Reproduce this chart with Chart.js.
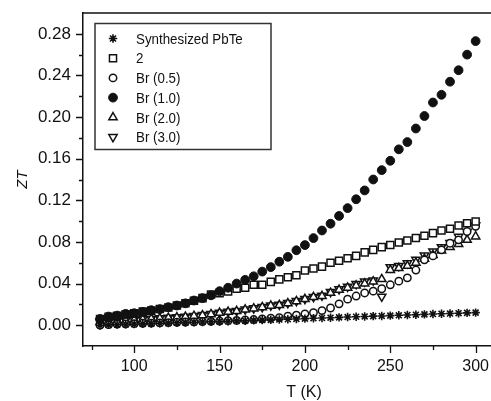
<!DOCTYPE html>
<html>
<head>
<meta charset="utf-8">
<script src="https://cdn.jsdelivr.net/npm/chart.js@4/dist/chart.umd.min.js"></script>
<style>
  html, body { margin: 0; padding: 0; background: #fff; }
  #wrap { width: 491px; height: 401px; }
</style>
</head>
<body>
<div id="wrap"><canvas id="zt-chart"></canvas></div>
<script>
// temperatures (K)
const temps = [80, 85, 90, 95, 100, 105, 110, 115, 120, 125,
               130, 135, 140, 145, 150, 155, 160, 165, 170, 175,
               180, 185, 190, 195, 200, 205, 210, 215, 220, 225,
               230, 235, 240, 245, 250, 255, 260, 265, 270, 275,
               280, 285, 290, 295, 300];

const ztPbTe = [0.0000, 0.0003, 0.0005, 0.0008, 0.0010, 0.0013, 0.0015, 0.0018, 0.0020, 0.0023,
                0.0025, 0.0028, 0.0030, 0.0033, 0.0036, 0.0038, 0.0041, 0.0043, 0.0046, 0.0049,
                0.0051, 0.0054, 0.0057, 0.0060, 0.0063, 0.0066, 0.0069, 0.0072, 0.0075, 0.0078,
                0.0081, 0.0084, 0.0087, 0.0089, 0.0092, 0.0095, 0.0098, 0.0101, 0.0104, 0.0107,
                0.0110, 0.0112, 0.0115, 0.0118, 0.0121];

const zt2 = [0.0060, 0.0080, 0.0090, 0.0105, 0.0115, 0.0130, 0.0140, 0.0155, 0.0170, 0.0190,
             0.0210, 0.0235, 0.0260, 0.0295, 0.0308, 0.0323, 0.0350, 0.0360, 0.0388, 0.0388,
             0.0416, 0.0440, 0.0460, 0.0480, 0.0525, 0.0544, 0.0563, 0.0600, 0.0620, 0.0644,
             0.0666, 0.0700, 0.0724, 0.0750, 0.0770, 0.0794, 0.0813, 0.0837, 0.0860, 0.0885,
             0.0910, 0.0926, 0.0958, 0.0980, 0.0996];

const ztBr05 = [0.0000, 0.0005, 0.0010, 0.0012, 0.0015, 0.0018, 0.0020, 0.0022, 0.0025, 0.0028,
                0.0030, 0.0032, 0.0035, 0.0037, 0.0040, 0.0043, 0.0046, 0.0050, 0.0054, 0.0060,
                0.0067, 0.0073, 0.0087, 0.0096, 0.0109, 0.0121, 0.0140, 0.0165, 0.0205, 0.0250,
                0.0280, 0.0310, 0.0327, 0.0350, 0.0388, 0.0423, 0.0455, 0.0530, 0.0628, 0.0666,
                0.0724, 0.0788, 0.0820, 0.0900, 0.0950];

const ztBr10 = [0.0060, 0.0083, 0.0092, 0.0109, 0.0115, 0.0128, 0.0144, 0.0154, 0.0173, 0.0189,
                0.0210, 0.0237, 0.0260, 0.0287, 0.0327, 0.0360, 0.0400, 0.0436, 0.0470, 0.0515,
                0.0558, 0.0610, 0.0657, 0.0720, 0.0770, 0.0837, 0.0910, 0.0975, 0.1050, 0.1125,
                0.1210, 0.1295, 0.1400, 0.1490, 0.1580, 0.1690, 0.1760, 0.1890, 0.2010, 0.2140,
                0.2214, 0.2340, 0.2450, 0.2600, 0.2730];

const ztBr20 = [0.0030, 0.0035, 0.0040, 0.0045, 0.0050, 0.0055, 0.0060, 0.0065, 0.0070, 0.0075,
                0.0080, 0.0088, 0.0095, 0.0105, 0.0118, 0.0128, 0.0135, 0.0150, 0.0160, 0.0172,
                0.0187, 0.0193, 0.0210, 0.0230, 0.0250, 0.0270, 0.0280, 0.0310, 0.0340, 0.0360,
                0.0380, 0.0400, 0.0420, 0.0442, 0.0530, 0.0548, 0.0570, 0.0600, 0.0637, 0.0673,
                0.0717, 0.0750, 0.0780, 0.0820, 0.0852];

const ztBr30 = [0.0032, 0.0037, 0.0042, 0.0047, 0.0052, 0.0057, 0.0062, 0.0067, 0.0072, 0.0078,
                0.0083, 0.0090, 0.0098, 0.0108, 0.0120, 0.0130, 0.0138, 0.0152, 0.0163, 0.0175,
                0.0190, 0.0197, 0.0213, 0.0233, 0.0253, 0.0272, 0.0285, 0.0320, 0.0346, 0.0370,
                0.0397, 0.0420, 0.0430, 0.0275, 0.0558, 0.0570, 0.0596, 0.0630, 0.0670, 0.0710,
                0.0750, 0.0790, 0.0850, 0.0900, 0.0960];

const seriesLabels = ['Synthesized PbTe', '2', 'Br (0.5)', 'Br (1.0)', 'Br (2.0)', 'Br (3.0)'];

// axis ticks (majors get labels)
const xTicks = [75, 100, 125, 150, 175, 200, 225, 250, 275, 300];
const xMajor = [100, 150, 200, 250, 300];
const yTicks = [0.00, 0.02, 0.04, 0.06, 0.08, 0.10, 0.12, 0.14, 0.16, 0.18, 0.20, 0.22, 0.24, 0.26, 0.28];

const FONT = '"Liberation Sans", Arial, sans-serif';
const INK = '#111';

const toPoints = vals => temps.map((t, i) => ({ x: t, y: vals[i] }));

const markerStyles = [
    { pointStyle: 'star', radius: 4.2, fill: INK, rotation: 0, width: 1.6 },
    { pointStyle: 'rect', radius: 5, fill: '#fff', rotation: 0, width: 1.5 },
    { pointStyle: 'circle', radius: 3.7, fill: '#fff', rotation: 0, width: 1.5 },
    { pointStyle: 'circle', radius: 4.4, fill: INK, rotation: 0, width: 1 },
    { pointStyle: 'triangle', radius: 4.8, fill: '#fff', rotation: 0, width: 1.5 },
    { pointStyle: 'triangle', radius: 4.8, fill: '#fff', rotation: 180, width: 1.5 }
];
const seriesData = [ztPbTe, zt2, ztBr05, ztBr10, ztBr20, ztBr30];
const drawOrder = [2, 3, 4, 0, 5, 5];

const datasets = seriesData.map((vals, i) => ({
    label: seriesLabels[i],
    data: toPoints(vals),
    showLine: false,
    order: drawOrder[i],
    pointStyle: markerStyles[i].pointStyle,
    pointRadius: markerStyles[i].radius,
    pointRotation: markerStyles[i].rotation,
    pointBackgroundColor: markerStyles[i].fill,
    pointBorderColor: INK,
    pointBorderWidth: markerStyles[i].width
}));

// fixed plot frame: left 83, top 13, bottom 346, right at the canvas edge
const fitX = s => {
    s.height = 55;
    s.paddingLeft = 0; s.paddingRight = 0;
};
const fitY = s => {
    s.width = 83;
    s.paddingTop = 0; s.paddingBottom = 0;
};

// outward major/minor tick marks, top frame line, x title and the boxed legend
const framePlugin = {
    id: 'frame',
    afterDraw(chart) {
        const ctx = chart.ctx;
        const area = chart.chartArea;
        const xs = chart.scales.x, ys = chart.scales.y;
        ctx.save();
        ctx.strokeStyle = INK;
        ctx.lineWidth = 1.5;
        ctx.beginPath();
        ctx.moveTo(area.left, area.top);
        ctx.lineTo(area.right, area.top);
        ctx.stroke();

        ctx.lineWidth = 1.3;
        ctx.beginPath();
        yTicks.forEach(v => {
            const py = Math.round(ys.getPixelForValue(v)) + 0.5;
            const len = Math.round(v * 100) % 4 === 0 ? 7 : 4;
            ctx.moveTo(area.left - len, py);
            ctx.lineTo(area.left, py);
        });
        xTicks.forEach(v => {
            const px = Math.round(xs.getPixelForValue(v)) + 0.5;
            const len = xMajor.includes(v) ? 7 : 4;
            ctx.moveTo(px, area.bottom);
            ctx.lineTo(px, area.bottom + len);
        });
        ctx.stroke();

        ctx.fillStyle = INK;
        ctx.font = '16px ' + FONT;
        ctx.textAlign = 'center';
        ctx.textBaseline = 'middle';
        ctx.fillText('T (K)', 304, 393);

        // legend box
        ctx.lineWidth = 1.5;
        ctx.strokeStyle = '#333';
        ctx.strokeRect(95, 23.5, 176, 126);
        ctx.font = '15.5px ' + FONT;
        ctx.textAlign = 'left';
        chart.data.datasets.forEach((ds, i) => {
            const y = 38.5 + i * 19.7;
            const m = markerStyles[i];
            ctx.fillStyle = m.fill;
            ctx.strokeStyle = INK;
            ctx.lineWidth = m.width;
            Chart.helpers.drawPoint(ctx, {
                pointStyle: m.pointStyle, radius: m.radius,
                rotation: m.rotation, borderWidth: m.width
            }, 113, y);
            // condensed label text
            ctx.save();
            ctx.translate(136, y + 1);
            ctx.scale(0.86, 1);
            ctx.fillStyle = INK;
            ctx.fillText(ds.label, 0, 0);
            ctx.restore();
        });
        ctx.restore();
    }
};

new Chart(document.getElementById('zt-chart'), {
    type: 'scatter',
    data: { datasets },
    options: {
        responsive: true,
        maintainAspectRatio: false,
        animation: false,
        devicePixelRatio: 1,
        layout: { autoPadding: false, padding: { top: 13, right: 0, left: 0, bottom: 0 } },
        plugins: { legend: { display: false }, tooltip: { enabled: false } },
        scales: {
            x: {
                type: 'linear',
                min: 70,
                max: 309,
                afterFit: fitX,
                afterBuildTicks: s => { s.ticks = xTicks.map(v => ({ value: v })); },
                grid: { display: true, drawOnChartArea: false, drawTicks: false },
                border: { display: true, color: INK, width: 1.5 },
                ticks: {
                    padding: 11,
                    color: INK,
                    font: { family: FONT, size: 16 },
                    maxRotation: 0,
                    autoSkip: false,
                    callback: v => xMajor.includes(v) ? String(v) : ''
                }
            },
            y: {
                type: 'linear',
                min: -0.02,
                max: 0.30,
                afterFit: fitY,
                afterBuildTicks: s => { s.ticks = yTicks.map(v => ({ value: v })); },
                grid: { display: true, drawOnChartArea: false, drawTicks: false },
                border: { display: true, color: INK, width: 1.5 },
                title: {
                    display: true,
                    text: 'ZT',
                    color: INK,
                    font: { family: FONT, size: 15, style: 'italic' },
                    padding: { top: 14, bottom: 0 }
                },
                ticks: {
                    padding: 12,
                    color: INK,
                    font: { family: FONT, size: 17 },
                    autoSkip: false,
                    callback: v => Math.round(v * 100) % 4 === 0 ? v.toFixed(2) : ''
                }
            }
        }
    },
    plugins: [framePlugin]
});
</script>
</body>
</html>
